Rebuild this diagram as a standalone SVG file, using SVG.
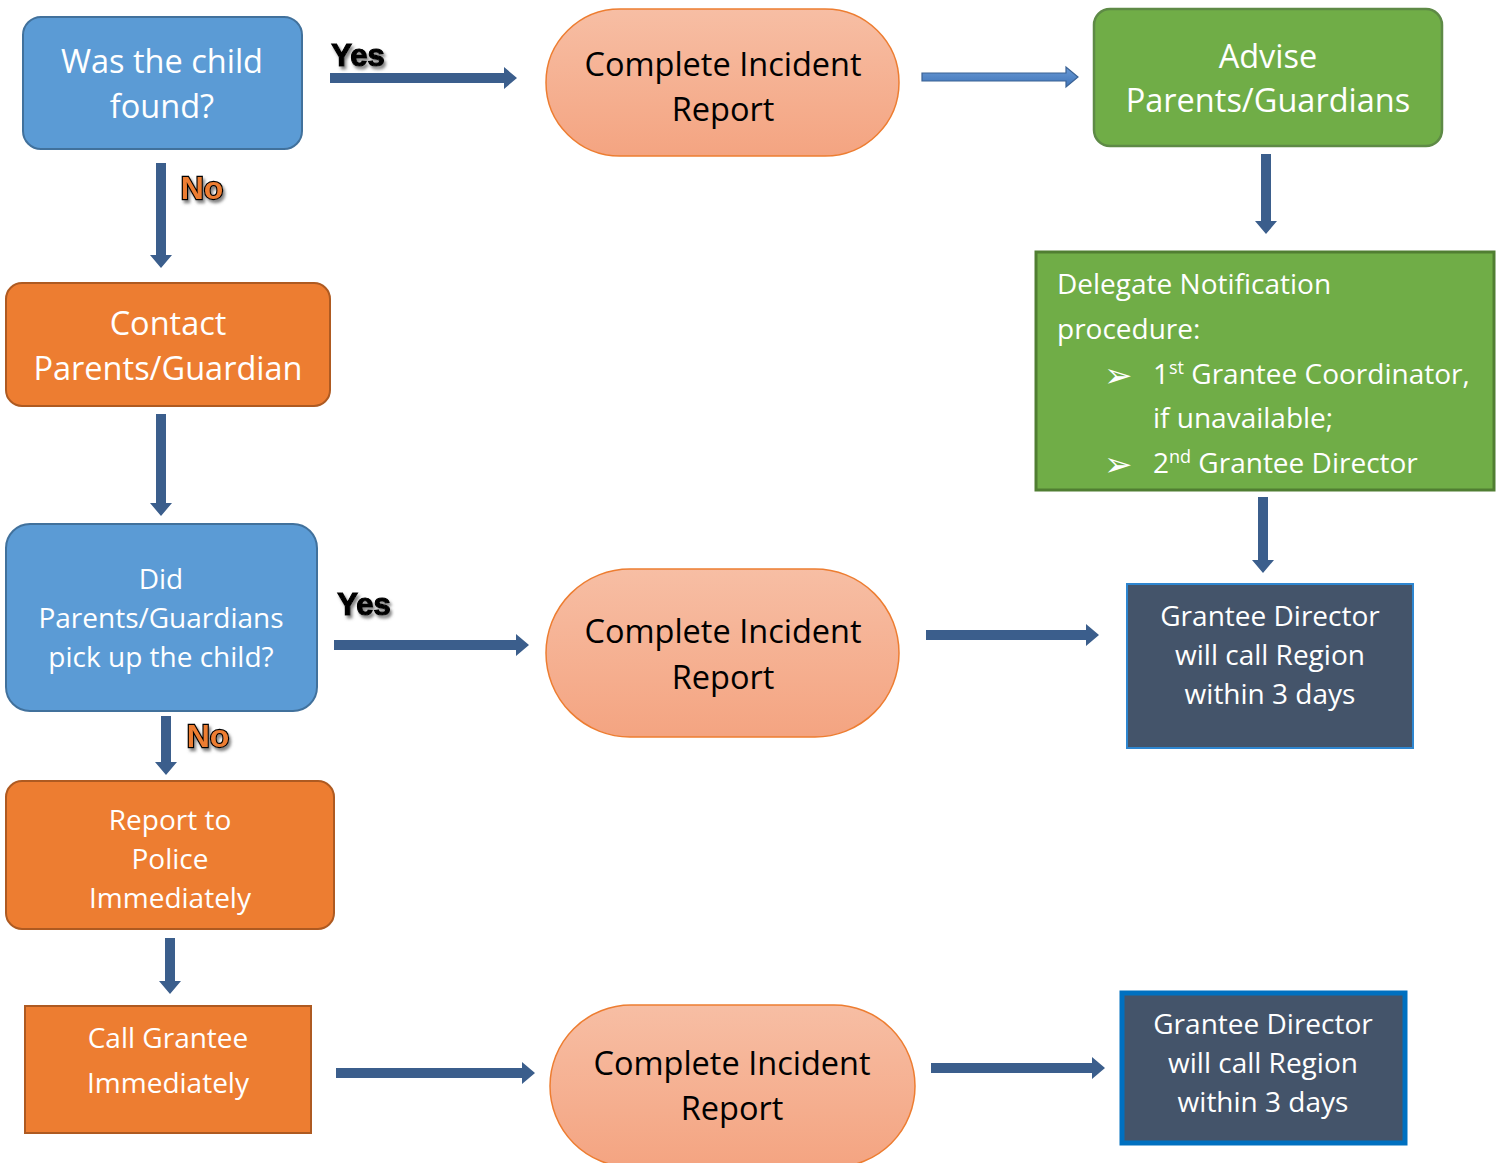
<svg xmlns="http://www.w3.org/2000/svg" width="1501" height="1163" viewBox="0 0 1501 1163">
<defs>
<linearGradient id="peach" x1="0" y1="0" x2="0" y2="1">
<stop offset="0" stop-color="#F7BEA4"/>
<stop offset="1" stop-color="#F4A481"/>
</linearGradient>
<linearGradient id="lightArrow" x1="0" y1="0" x2="0" y2="1">
<stop offset="0" stop-color="#6A9AD6"/>
<stop offset="1" stop-color="#3F74B8"/>
</linearGradient>
<filter id="shadow" x="-20%" y="-20%" width="150%" height="160%">
<feDropShadow dx="2" dy="3" stdDeviation="1.8" flood-color="#666" flood-opacity="0.8"/>
</filter>
<style>
text{font-family:"Open Sans","Noto Sans",sans-serif;text-anchor:middle}
.w{fill:#fff}
.k{fill:#000}
.big{font-size:32.5px}
.sm{font-size:28px}
.blue{fill:#5B9BD5;stroke:#41719C;stroke-width:2}
.orange{fill:#ED7D31;stroke:#AE5A21;stroke-width:2}
.green{fill:#70AD47;stroke:#5E8A46;stroke-width:2.5}
.cir{fill:url(#peach);stroke:#ED7D31;stroke-width:1.5}
.dark{fill:#44546A}
.arr{fill:#3B5E8C}
.yes{font-family:"Liberation Sans",Arial,sans-serif;font-weight:bold;font-size:31px;fill:#000;stroke:#000;stroke-width:1.2;filter:url(#shadow)}
.no{font-family:"Liberation Sans",Arial,sans-serif;font-weight:bold;font-size:32px;fill:#ED7D31;stroke:#000;stroke-width:2.4;paint-order:stroke;filter:url(#shadow)}
.lt{text-anchor:start}
.bul{font-family:"DejaVu Sans",sans-serif;font-size:34px;text-anchor:start}
</style>
</defs>
<rect width="1501" height="1163" fill="#fff"/>

<g id="connectors">
<polygon class="arr" points="330,73 504,73 504,67 517,78 504,89 504,83 330,83"/>
<polygon points="922,73 1066,73 1066,67 1078,77 1066,87 1066,81 922,81" fill="url(#lightArrow)" stroke="#3A6294" stroke-width="1.2"/>
<polygon class="arr" points="1261,154 1271,154 1271,221 1277,221 1266,234 1255,221 1261,221"/>
<polygon class="arr" points="156,163 166,163 166,255 172,255 161,268 150,255 156,255"/>
<polygon class="arr" points="156,414 166,414 166,503 172,503 161,516 150,503 156,503"/>
<polygon class="arr" points="1258,497 1268,497 1268,560 1274,560 1263,573 1252,560 1258,560"/>
<polygon class="arr" points="334,640 516,640 516,634 529,645 516,656 516,650 334,650"/>
<polygon class="arr" points="926,630 1086,630 1086,624 1099,635 1086,646 1086,640 926,640"/>
<polygon class="arr" points="161,716 171,716 171,762 177,762 166,775 155,762 161,762"/>
<polygon class="arr" points="165,938 175,938 175,981 181,981 170,994 159,981 165,981"/>
<polygon class="arr" points="336,1068 522,1068 522,1062 535,1073 522,1084 522,1078 336,1078"/>
<polygon class="arr" points="931,1063 1092,1063 1092,1057 1105,1068 1092,1079 1092,1073 931,1073"/>
<text class="yes" x="358" y="66">Yes</text>
<text class="no" x="202" y="199">No</text>
<text class="yes" x="364" y="615">Yes</text>
<text class="no" x="208" y="747">No</text>
</g>

<g id="node-found">
<rect class="blue" x="23" y="17" width="279" height="132" rx="18"/>
<text class="w big" x="162" y="73">Was the child</text>
<text class="w big" x="162" y="118">found?</text>
</g>

<g id="node-cir1">
<rect class="cir" x="546" y="9" width="353" height="147" rx="74"/>
<text class="k big" x="723" y="76">Complete Incident</text>
<text class="k big" x="723" y="121">Report</text>
</g>

<g id="node-advise">
<rect class="green" x="1094" y="9" width="348" height="137" rx="16"/>
<text class="w big" x="1268" y="68">Advise</text>
<text class="w big" x="1268" y="112">Parents/Guardians</text>
</g>

<g id="node-contact">
<rect class="orange" x="6" y="283" width="324" height="123" rx="16"/>
<text class="w big" x="168" y="335">Contact</text>
<text class="w big" x="168" y="380">Parents/Guardian</text>
</g>

<g id="node-delegate">
<rect x="1036" y="252" width="458" height="238" fill="#70AD47" stroke="#507E32" stroke-width="3"/>
<text class="w sm lt" x="1057" y="294">Delegate Notification</text>
<text class="w sm lt" x="1057" y="339">procedure:</text>
<text class="w bul" x="1104" y="387">➢</text>
<text class="w sm lt" x="1153" y="384">1<tspan font-size="18" dy="-10">st</tspan><tspan dy="10"> Grantee Coordinator,</tspan></text>
<text class="w sm lt" x="1153" y="428">if unavailable;</text>
<text class="w bul" x="1104" y="476">➢</text>
<text class="w sm lt" x="1153" y="473">2<tspan font-size="18" dy="-10">nd</tspan><tspan dy="10"> Grantee Director</tspan></text>
</g>

<g id="node-pickup">
<rect class="blue" x="6" y="524" width="311" height="187" rx="24"/>
<text class="w sm" x="161" y="589">Did</text>
<text class="w sm" x="161" y="628">Parents/Guardians</text>
<text class="w sm" x="161" y="667">pick up the child?</text>
</g>

<g id="node-cir2">
<rect class="cir" x="546" y="569" width="353" height="168" rx="84"/>
<text class="k big" x="723" y="643">Complete Incident</text>
<text class="k big" x="723" y="689">Report</text>
</g>

<g id="node-gd1">
<rect class="dark" x="1127" y="584" width="286" height="164" stroke="#2E86D0" stroke-width="2"/>
<text class="w sm" x="1270" y="626">Grantee Director</text>
<text class="w sm" x="1270" y="665">will call Region</text>
<text class="w sm" x="1270" y="704">within 3 days</text>
</g>

<g id="node-police">
<rect class="orange" x="6" y="781" width="328" height="148" rx="16"/>
<text class="w sm" x="170" y="830">Report to</text>
<text class="w sm" x="170" y="869">Police</text>
<text class="w sm" x="170" y="908">Immediately</text>
</g>

<g id="node-call">
<rect class="orange" x="25" y="1006" width="286" height="127" rx="0"/>
<text class="w sm" x="168" y="1048">Call Grantee</text>
<text class="w sm" x="168" y="1093">Immediately</text>
</g>

<g id="node-cir3">
<rect class="cir" x="550" y="1005" width="365" height="162" rx="81"/>
<text class="k big" x="732" y="1075">Complete Incident</text>
<text class="k big" x="732" y="1120">Report</text>
</g>

<g id="node-gd2">
<rect class="dark" x="1122" y="993" width="283" height="150" stroke="#0070C0" stroke-width="5"/>
<text class="w sm" x="1263" y="1034">Grantee Director</text>
<text class="w sm" x="1263" y="1073">will call Region</text>
<text class="w sm" x="1263" y="1112">within 3 days</text>
</g>
</svg>
